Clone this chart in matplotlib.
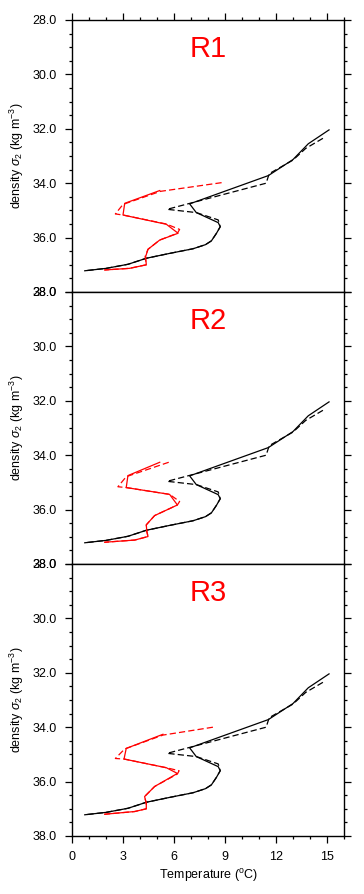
import numpy as np
import matplotlib
matplotlib.use("Agg")
import matplotlib.pyplot as plt
from matplotlib.ticker import MultipleLocator, FormatStrFormatter

plt.rcParams['font.family'] = ['Liberation Sans', 'DejaVu Sans']
plt.rcParams['mathtext.fontset'] = 'custom'
plt.rcParams['mathtext.rm'] = 'Liberation Sans'
plt.rcParams['mathtext.it'] = 'Liberation Sans:italic'

panel_names = ["R1", "R2", "R3"]

# black profiles (same in every panel)
black_solid_T = [15.12, 13.9, 13.0, 11.55, 6.92, 7.31, 8.6, 8.72, 8.5, 8.2, 7.85, 7.12, 5.75, 4.37, 3.3, 2.02, 0.75]
black_solid_sig = [32.04, 32.55, 33.13, 33.72, 34.76, 35.08, 35.45, 35.6, 35.84, 36.12, 36.26, 36.41, 36.58, 36.76, 36.98, 37.13, 37.22]
black_dash_T = [14.76, 13.75, 13.0, 11.6, 11.42, 5.6, 7.31, 8.6, 8.72, 8.5, 8.2, 7.85, 7.12, 5.75, 4.37, 3.3, 2.02, 0.75]
black_dash_sig = [32.35, 32.72, 33.15, 33.65, 34.0, 34.96, 35.08, 35.35, 35.6, 35.84, 36.12, 36.26, 36.41, 36.58, 36.76, 36.98, 37.13, 37.22]

# red profiles, one list per panel
red_solid_T = [
    [5.16, 3.1, 3.0, 5.55, 6.24, 5.16, 4.47, 4.33, 4.37, 3.39, 1.92],
    [5.16, 3.29, 3.19, 5.74, 6.2, 4.86, 4.37, 4.4, 4.47, 3.69, 1.92],
    [5.35, 3.19, 3.06, 5.55, 6.2, 4.86, 4.27, 4.37, 4.37, 3.69, 1.92],
]
red_solid_sig = [
    [34.27, 34.74, 35.17, 35.51, 35.84, 36.09, 36.43, 36.7, 37.0, 37.13, 37.19],
    [34.26, 34.75, 35.19, 35.44, 35.83, 36.22, 36.56, 36.8, 36.99, 37.12, 37.2],
    [34.26, 34.78, 35.17, 35.49, 35.7, 36.18, 36.55, 36.8, 37.0, 37.1, 37.2],
]
red_dash_T = [
    [8.8, 5.2, 3.0, 2.55, 3.0, 5.55, 6.33, 6.2, 5.16, 4.47, 4.3, 4.37, 3.39, 1.92],
    [5.69, 3.19, 2.7, 3.19, 5.74, 6.33, 6.2, 4.86, 4.37, 4.4, 4.47, 3.69, 1.92],
    [8.29, 5.35, 3.1, 2.55, 3.06, 5.55, 6.3, 6.2, 4.86, 4.27, 4.37, 4.37, 3.69, 1.92],
]
red_dash_sig = [
    [33.98, 34.3, 34.78, 35.13, 35.17, 35.5, 35.7, 35.84, 36.09, 36.43, 36.7, 37.0, 37.13, 37.19],
    [34.26, 34.79, 35.16, 35.19, 35.44, 35.7, 35.83, 36.22, 36.56, 36.8, 36.99, 37.12, 37.2],
    [34.0, 34.29, 34.8, 35.15, 35.17, 35.49, 35.6, 35.72, 36.18, 36.55, 36.8, 37.0, 37.1, 37.2],
]

W, H = 364, 894
fig = plt.figure(figsize=(W / 100, H / 100), dpi=100)

left, right = 72 / W, 344 / W
ph = 272 / H
tops = [20, 292, 564]

for i, name in enumerate(panel_names):
    bottom = 1 - (tops[i] + 272) / H
    ax = fig.add_axes([left, bottom, right - left, ph])
    ax.plot(black_solid_T, black_solid_sig, color='black', lw=0.9)
    ax.plot(black_dash_T, black_dash_sig, color='black', lw=0.9, dashes=(5, 2.5))
    ax.plot(red_solid_T[i], red_solid_sig[i], color='#ff0000', lw=0.9)
    ax.plot(red_dash_T[i], red_dash_sig[i], color='#ff0000', lw=0.9, dashes=(5, 2.5))

    ax.set_xlim(0, 16)
    ax.set_ylim(38, 28)
    ax.text(8, 29.05, name, color='#ff0000', fontsize=21, ha='center', va='center')

    ax.xaxis.set_major_locator(MultipleLocator(3))
    ax.xaxis.set_minor_locator(MultipleLocator(1))
    ax.yaxis.set_major_locator(MultipleLocator(2))
    ax.yaxis.set_minor_locator(MultipleLocator(0.5))
    ax.yaxis.set_major_formatter(FormatStrFormatter('%.1f'))

    ax.tick_params(which='both', direction='out', left=True, right=True,
                   top=(i == 0), bottom=(i == 2), labelbottom=(i == 2),
                   labelsize=9, width=0.9)
    ax.tick_params(which='major', length=5, pad=6)
    ax.tick_params(which='minor', length=2.5)
    for sp in ax.spines.values():
        sp.set_linewidth(1.0)

    ax.set_ylabel(r'density $\sigma_2$ (kg m$^{-3}$)', fontsize=9)
    ax.yaxis.set_label_coords(-0.17, 0.5)
    if i == 2:
        ax.set_xlabel(r'Temperature ($^\mathrm{o}$C)', fontsize=9, labelpad=3)

fig.savefig("out.png", dpi=100)
